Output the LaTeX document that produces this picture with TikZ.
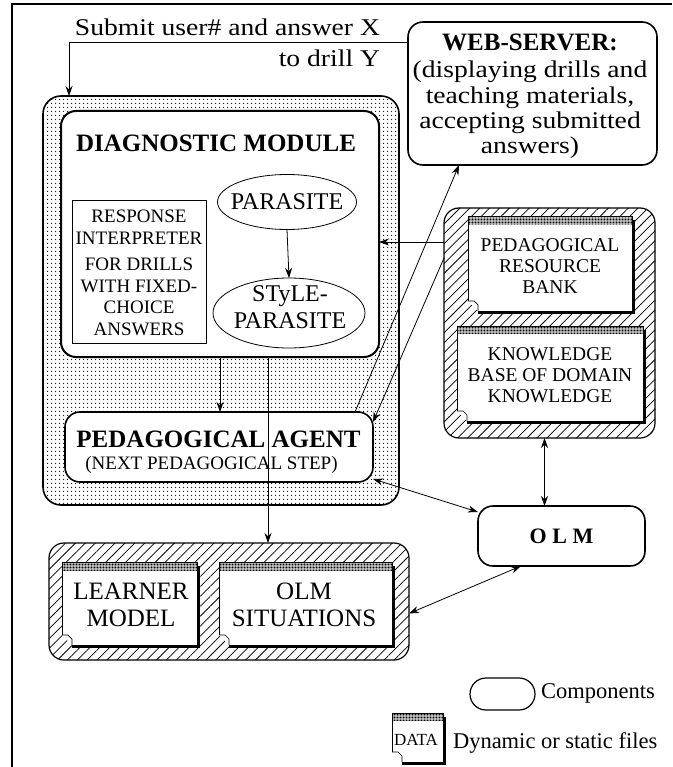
\documentclass[tikz,border=0pt]{standalone}
\usepackage{fontspec}
\setmainfont{Liberation Serif}
\newfontfamily\widefont{Liberation Serif}[FakeStretch=1.15]
\usetikzlibrary{calc,shapes.geometric,patterns.meta,arrows.meta}
\tikzset{
  every node/.style={inner sep=0pt, outer sep=0pt},
  arr/.style={line width=0.8pt, -{Stealth[length=10pt,width=7pt]}},
  darr/.style={line width=0.8pt, {Stealth[length=10pt,width=7pt]}-{Stealth[length=10pt,width=7pt]}},
  comp/.style={draw, line width=1.6pt, rounded corners=15pt, fill=white},
  stipple/.style={draw, line width=1.6pt, rounded corners=18pt, pattern={Dots[distance=4pt,radius=0.75pt]}},
  hatch/.style={draw, line width=1.2pt, rounded corners=15pt, pattern={Lines[angle=45,distance=7pt,line width=0.75pt]}},
  ell/.style={ellipse, draw, line width=0.8pt},
  capsmall/.style={font=\fontsize{19.5}{21}\selectfont, align=center},
  capbig/.style={font=\fontsize{25}{27}\selectfont, align=center},
  headtxt/.style={font=\fontsize{25}{27}\selectfont\bfseries},
  widetxt/.style={font=\fontsize{24}{25.3}\widefont, align=center},
  legtxt/.style={font=\fontsize{22.5}{24}\selectfont, anchor=west}
}
\newcommand{\datafile}[1]{%
  \fill[white] ($(#1.south west)+(0,-10)$) -- (#1.north west) -- (#1.north east) -- (#1.south east) -- ($(#1.south west)+(10,0)$) -- cycle;
  \fill[pattern={Dots[distance=1.5pt,radius=0.6pt]}] (#1.north west) rectangle ($(#1.north east)+(0,8)$);
  \draw[line width=0.7pt] ($(#1.south west)+(0,-10)$) -- (#1.north west) -- (#1.north east) -- (#1.south east) -- ($(#1.south west)+(10,0)$);
  \draw[line width=0.7pt] ($(#1.south west)+(0,-10)$) -- ($(#1.south west)+(6,-10)$) -- ($(#1.south west)+(10,-6)$) -- ($(#1.south west)+(10,0)$);
  \draw[line width=3pt] ($(#1.north east)+(1.5,4)$) -- ($(#1.south east)+(1.5,1.5)$) -- ($(#1.south west)+(10,1.5)$);
}
\begin{document}
\begin{tikzpicture}[x=1pt,y=-1pt]
\useasboundingbox (0,0) rectangle (672,767);
% frame
\coordinate (fbl) at (12,767);
\coordinate (ftl) at (12,4);
\coordinate (ftr) at (672,4);
\draw[line width=1.5pt] (fbl) -- (ftl) -- (ftr);

% top label
\node[widetxt, anchor=east] (sub1) at (380,27) {Submit user\# and answer X};
\node[widetxt, anchor=east] (sub2) at (380,58) {to drill Y};

% outer stippled container
\node[stipple, minimum width=356pt, minimum height=409pt] (outer) at (221,300.5) {};
% diagnostic module
\node[comp, line width=2pt, minimum width=318pt, minimum height=246pt] (diag) at (220,234) {};
\node[headtxt] (diagT) at (216,143) {DIAGNOSTIC MODULE};
\node[draw, line width=0.8pt, minimum width=134pt, minimum height=143pt] (resp) at (139,271.5) {};
\node[font=\fontsize{19}{21.5}\selectfont, align=center] (respT) at (139,273) {RESPONSE\\INTERPRETER\\[5pt]FOR DRILLS\\WITH FIXED-\\CHOICE\\ANSWERS};
\node[ell, minimum width=139pt, minimum height=55pt] (par) at (287,202) {};
\node[font=\fontsize{24}{26}\selectfont] (parT) at (par) {PARASITE};
\node[ell, minimum width=152pt, minimum height=70pt] (sty) at (289,313) {};
\node[font=\fontsize{24}{27}\selectfont, align=center] (styT) at (290,307) {STyLE-\\PARASITE};

% pedagogical agent
\node[comp, minimum width=308pt, minimum height=70pt] (pa) at (219,447) {};
\node[headtxt] (paT) at (218.5,439) {PEDAGOGICAL AGENT};
\node[font=\fontsize{19}{21}\selectfont] (paS) at (211.5,465) {(NEXT PEDAGOGICAL STEP)};

% web server
\node[comp, minimum width=249pt, minimum height=143pt] (web) at (532.5,93.5) {};
\node[headtxt] (webT) at (530,42) {WEB-SERVER:};
\node[widetxt] (webB) at (530,110) {(displaying drills and\\teaching materials,\\accepting submitted\\answers)};

% resources group
\node[hatch, minimum width=211pt, minimum height=230pt] (rg) at (549.5,323) {};
\node[minimum width=164pt, minimum height=95pt] (prb) at (550,263.5) {};
\datafile{prb}
\node[capsmall] (prbT) at (550,266) {PEDAGOGICAL\\RESOURCE\\BANK};
\node[minimum width=186pt, minimum height=95pt] (kb) at (550,373.5) {};
\datafile{kb}
\node[capsmall] (kbT) at (550,375) {KNOWLEDGE\\BASE OF DOMAIN\\KNOWLEDGE};

% OLM
\node[comp, minimum width=167pt, minimum height=60pt] (olm) at (561.5,536) {};
\node[font=\fontsize{22}{24}\selectfont\bfseries] (olmT) at (olm) {O L M};

% learner group
\node[hatch, minimum width=360pt, minimum height=117pt] (lg) at (229,601.5) {};
\node[minimum width=135pt, minimum height=83pt] (lm) at (129.5,603.5) {};
\datafile{lm}
\node[capbig] (lmT) at (131,605) {LEARNER\\MODEL};
\node[minimum width=173pt, minimum height=83pt] (os) at (305.5,603.5) {};
\datafile{os}
\node[capbig] (osT) at (304,605) {OLM\\SITUATIONS};

% legend
\node[draw, line width=1.2pt, rounded corners=16pt, minimum width=65pt, minimum height=32pt] (legC) at (502.5,694) {};
\node[legtxt] (legCT) at (541,693) {Components};
\node[minimum width=51pt, minimum height=49pt] (legD) at (417.5,737.5) {};
\datafile{legD}
\node[font=\fontsize{17}{19}\selectfont] (legDT0) at (416,740) {DATA};
\node[legtxt] (legDT) at (453,743) {Dynamic or static files};

% connectors
\draw[arr] ($(web.north west)+(0,20)$) -| ($(outer.north west)+(26,0)$);
\draw[arr] (par.south) -- (sty.north);
\coordinate (a1) at ($(rg.north west)+(0,34)$);
\draw[arr] (a1) -- (a1 -| diag.east);
\draw[arr] (diag.south) -- (diag.south |- pa.north);
\coordinate (a2) at ($(diag.south)+(48,0)$);
\draw[arr] (a2) -- (a2 |- lg.north);
\draw[arr] ($(pa.north east)+(-18,0)$) -- ($(web.south west)+(51,0)$);
\draw[arr] ($(rg.north west)+(0,50)$) -- ($(pa.north east)+(0,10)$);
\draw[darr] ($(pa.south east)+(0,-3)$) -- ($(olm.north west)+(0,6)$);
\coordinate (a3) at ($(rg.south)+(-5,0)$);
\draw[darr] (a3) -- (a3 |- olm.north);
\draw[darr] ($(olm.south west)+(43,0)$) -- ($(lg.east)+(0,12)$);
\end{tikzpicture}
\end{document}
